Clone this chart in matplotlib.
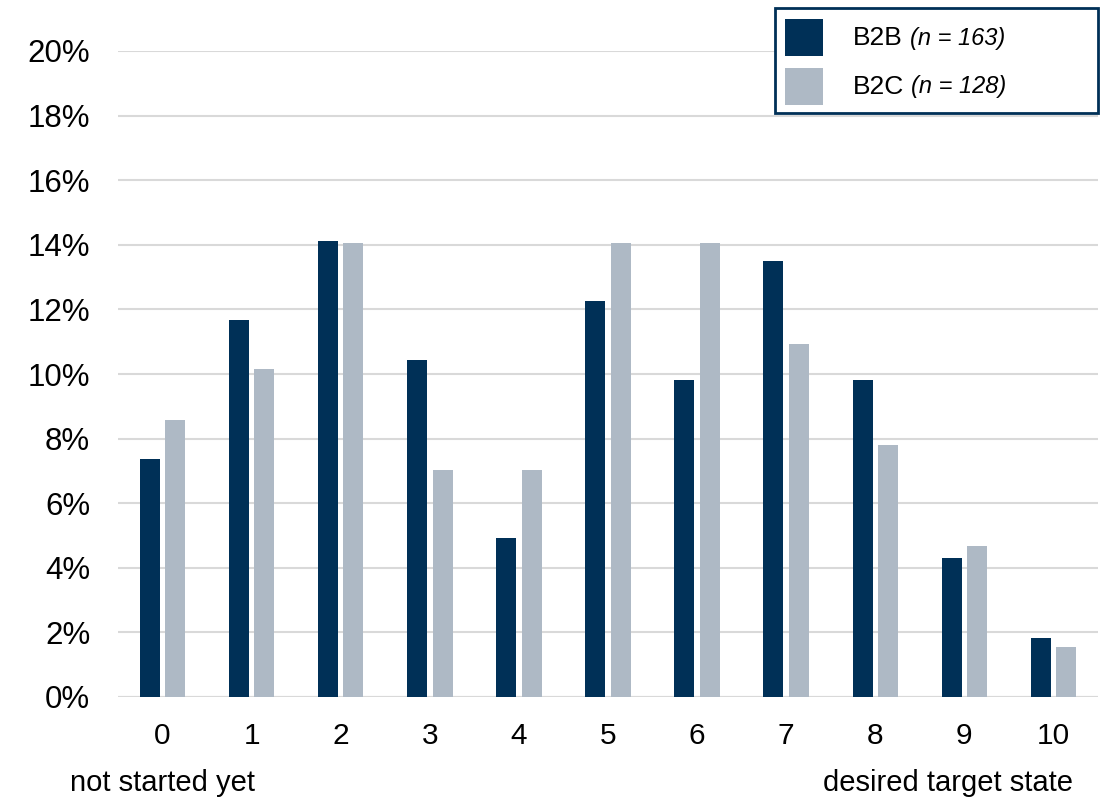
import numpy as np
import matplotlib
matplotlib.use("Agg")
import matplotlib.pyplot as plt
from matplotlib.patches import Rectangle
from matplotlib.text import Annotation
from matplotlib.ticker import PercentFormatter

plt.rcParams["font.family"] = ["Liberation Sans", "DejaVu Sans"]

# share of respondents per maturity score (0 = not started, 10 = target state)
scores = [str(i) for i in range(11)]
b2b = [7.36, 11.66, 14.11, 10.43, 4.91, 12.27, 9.82, 13.50, 9.82, 4.29, 1.84]
b2c = [8.59, 10.16, 14.06, 7.03, 7.03, 14.06, 14.06, 10.94, 7.81, 4.69, 1.56]
series_names = ["B2B", "B2C"]
series_n = ["(n = 163)", "(n = 128)"]
yticks = [0, 2, 4, 6, 8, 10, 12, 14, 16, 18, 20]

NAVY = "#003057"
GREY = "#AEB9C5"
GRID = "#D9D9D9"

W, H = 1107, 798
fig = plt.figure(figsize=(W / 100, H / 100), dpi=100)
ax = fig.add_axes([118 / W, 1 - 697 / H, (1098 - 118) / W, (697 - 51) / H])

x = np.arange(len(scores))
w = 0.224
off = 0.143
ax.bar(x - off, b2b, width=w, color=NAVY, zorder=3)
ax.bar(x + off, b2c, width=w, color=GREY, zorder=3)

ax.set_xlim(-0.5, 10.5)
ax.set_ylim(0, 20)
ax.set_yticks(yticks)
ax.yaxis.set_major_formatter(PercentFormatter(decimals=0))
ax.set_xticks(x)
ax.set_xticklabels(scores)
ax.tick_params(axis="y", length=0, labelsize=22.5, pad=20)
ax.tick_params(axis="x", length=0, labelsize=21.5, pad=18)
ax.yaxis.grid(True, color=GRID, linewidth=1.5, zorder=0)
ax.set_axisbelow(True)
for s in ax.spines.values():
    s.set_visible(False)
ax.axhline(0, color=GRID, linewidth=1.5, zorder=1)

fig.text(70 / W, 1 - 783 / H, "not started yet", fontsize=21, ha="left", va="center")
fig.text(1073 / W, 1 - 783 / H, "desired target state", fontsize=21, ha="right", va="center")

# legend drawn by hand so the sample size can be set in smaller italics
fig.patches.append(Rectangle((775 / W, 1 - 113 / H), 323 / W, 105 / H,
                             transform=fig.transFigure, facecolor="white",
                             edgecolor=NAVY, linewidth=2, zorder=5))
for i, (name, n, col) in enumerate(zip(series_names, series_n, [NAVY, GREY])):
    top = 19 + i * 49
    fig.patches.append(Rectangle((785 / W, 1 - (top + 37) / H), 38 / W, 37 / H,
                                 transform=fig.transFigure, facecolor=col,
                                 edgecolor="none", zorder=6))
    t = fig.text(853 / W, 1 - (top + 19) / H, name, fontsize=19, ha="left",
                 va="center", zorder=7)
    fig.add_artist(Annotation(n, xy=(1, 0.5), xycoords=t, xytext=(5, 0),
                              textcoords="offset points", fontsize=17,
                              style="italic", ha="left", va="center", zorder=7))

fig.savefig("out.png", dpi=100)
